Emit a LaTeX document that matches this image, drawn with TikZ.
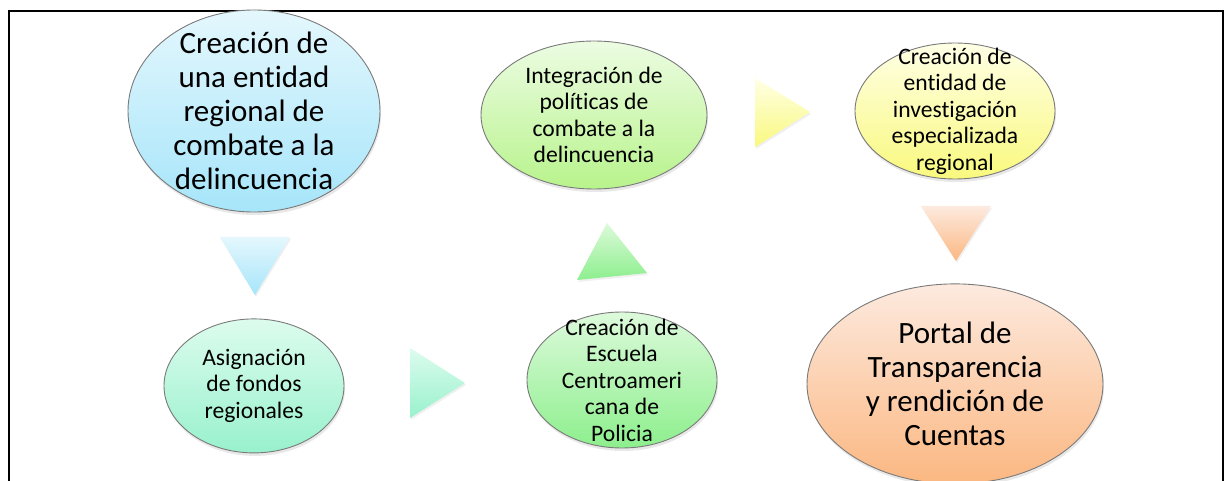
\documentclass[tikz,border=0pt]{standalone}
\usepackage{fontspec}
\setmainfont[Ligatures={NoCommon,NoContextual}, Contextuals=NoAlternate]{Carlito}
\usetikzlibrary{positioning, shapes.geometric, shadows}

\definecolor{entTop}{HTML}{E4F7FD}
\definecolor{entBot}{HTML}{A6E5FA}
\definecolor{asigTop}{HTML}{DDFCEE}
\definecolor{asigBot}{HTML}{98F1CD}
\definecolor{escTop}{HTML}{DDFADB}
\definecolor{escBot}{HTML}{8DEF8D}
\definecolor{intTop}{HTML}{ECFCE2}
\definecolor{intBot}{HTML}{B8F38C}
\definecolor{invTop}{HTML}{FFFFE6}
\definecolor{invBot}{HTML}{F9F97E}
\definecolor{porTop}{HTML}{FDEADF}
\definecolor{porBot}{HTML}{FBB781}
\definecolor{rimGray}{HTML}{7A7A7A}

\begin{document}
\begin{tikzpicture}[
        x=1pt, y=-1pt,
        bubble/.style={ellipse, draw=rimGray, line width=0.9pt, inner sep=0pt,
            drop shadow={shadow xshift=1pt, shadow yshift=-3pt, opacity=0.18}},
        bigtxt/.style={align=center, inner sep=0pt, font=\fontsize{31}{34}\selectfont},
        smalltxt/.style={align=center, inner sep=0pt, font=\fontsize{23.6}{26.5}\selectfont},
        arrowtri/.style={drop shadow={shadow xshift=1pt, shadow yshift=-2pt, opacity=0.12}}
    ]
        \useasboundingbox (0,0) rectangle (1227,481);
        % Frame
        \draw[line width=2.2pt] (9,11) rectangle (1223,500);
        % Top row
        \node[bubble, minimum width=252pt, minimum height=202pt, top color=entTop, bottom color=entBot] (ent) at (254,111) {};
        \node[bigtxt] (ent-t) at (ent) {Creación de\\una entidad\\regional de\\combate a la\\delincuencia};
        \node[bubble, minimum width=226pt, minimum height=148pt, top color=intTop, bottom color=intBot] (integ) at (594,115) {};
        \node[smalltxt] (integ-t) at (integ) {Integración de\\políticas de\\combate a la\\delincuencia};
        \node[bubble, minimum width=200pt, minimum height=136pt, top color=invTop, bottom color=invBot] (inv) at (955,111) {};
        \node[smalltxt] (inv-t) at (inv) {Creación de\\entidad de\\investigación\\especializada\\regional};
        % Bottom row
        \node[bubble, minimum width=180pt, minimum height=134pt, top color=asigTop, bottom color=asigBot, below=106pt of ent] (asig) {};
        \node[smalltxt] (asig-t) at (asig) {Asignación\\de fondos\\regionales};
        \node[bubble, minimum width=190pt, minimum height=136pt, top color=escTop, bottom color=escBot] (esc) at (622,380) {};
        \node[smalltxt] (esc-t) at (esc) {Creación de\\Escuela\\Centroameri\\cana de\\Policia};
        \node[bubble, minimum width=296pt, minimum height=200pt, top color=porTop, bottom color=porBot, below=104pt of inv] (portal) {};
        \node[bigtxt] (portal-t) at (portal) {Portal de\\Transparencia\\y rendición de\\Cuentas};
        % Arrows between stages
        \path[arrowtri, top color=entTop, bottom color=entBot] (220,237) -- (290,237) -- (255,295) -- cycle;
        \path[arrowtri, top color=asigTop, bottom color=asigBot] (410,348) -- (465,383) -- (410,418) -- cycle;
        \path[arrowtri, top color=escTop, bottom color=escBot] (577,280) -- (607,223) -- (647,273) -- cycle;
        \path[arrowtri, top color=invTop, bottom color=invBot] (755,78) -- (810,112) -- (755,147) -- cycle;
        \path[arrowtri, top color=porTop, bottom color=porBot] (921,206) -- (991,206) -- (956,261) -- cycle;
    \end{tikzpicture}
\end{document}
